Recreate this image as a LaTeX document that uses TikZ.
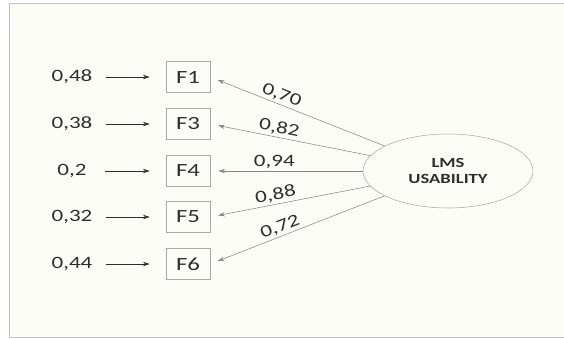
\documentclass[tikz,border=0pt]{standalone}
\usepackage{fontspec}
\setmainfont{Carlito}[FakeStretch=1.33]
\usetikzlibrary{arrows.meta, shapes.geometric}

\definecolor{paper}{HTML}{FDFDF8}
\definecolor{ink}{HTML}{2E2E2E}
\definecolor{rim}{HTML}{A8A8A8}
\definecolor{wire}{HTML}{858585}

\begin{document}
\begin{tikzpicture}[x=0.75pt, y=-0.75pt, >={Stealth[length=5pt,width=3.2pt]},
  item/.style={draw=rim, minimum width=33pt, minimum height=23.25pt, inner sep=0pt, text=ink, font=\fontsize{14}{14}\selectfont},
  err/.style={minimum width=30pt, inner sep=0pt, text=ink, font=\fontsize{13}{13}\selectfont},
  latent/.style={draw=rim, ellipse, minimum width=127.5pt, minimum height=55.5pt, inner sep=0pt, align=center, text=ink, font=\fontsize{10.5}{12}\selectfont\bfseries},
  load/.style={sloped, above, pos=0.58, inner sep=1.5pt, text=ink, font=\fontsize{13}{13}\selectfont}]
  \useasboundingbox (0,0) rectangle (564,339);

  % Page background and frame
  \fill[white] (0,0) rectangle (564,339);
  \filldraw[fill=paper, draw=rim!70] (9,3) rectangle (580,337);

  % Latent variable
  \node[latent] (lms) at (448,171) {LMS\\USABILITY};

  % Indicators
  \node[item] (f1) at (188,77) {F1};
  \node[item] (f3) at (188,124) {F3};
  \node[item] (f4) at (188,171) {F4};
  \node[item] (f5) at (188,217) {F5};
  \node[item] (f6) at (188,264) {F6};

  % Error terms
  \node[err] (e1) at (72,77) {0,48};
  \node[err] (e3) at (72,124) {0,38};
  \node[err] (e4) at (72,171) {0,2};
  \node[err] (e5) at (72,217) {0,32};
  \node[err] (e6) at (72,264) {0,44};

  % Error arrows
  \draw[->, ink, shorten <=9.75pt, shorten >=12pt] (e1) -- (f1);
  \draw[->, ink, shorten <=9.75pt, shorten >=12pt] (e3) -- (f3);
  \draw[->, ink, shorten <=9.75pt, shorten >=12pt] (e4) -- (f4);
  \draw[->, ink, shorten <=9.75pt, shorten >=12pt] (e5) -- (f5);
  \draw[->, ink, shorten <=9.75pt, shorten >=12pt] (e6) -- (f6);

  % Factor loadings
  \draw[->, wire, shorten >=6pt] (lms) -- (f1.east) node[load, pos=0.61] {0,70};
  \draw[->, wire, shorten >=6pt] (lms) -- (f3.east) node[load] {0,82};
  \draw[->, wire, shorten >=6pt] (lms) -- (f4.east) node[load] {0,94};
  \draw[->, wire, shorten >=6pt] (lms) -- (f5.east) node[load] {0,88};
  \draw[->, wire, shorten >=6pt] (lms) -- (f6.east) node[load] {0,72};
\end{tikzpicture}
\end{document}
